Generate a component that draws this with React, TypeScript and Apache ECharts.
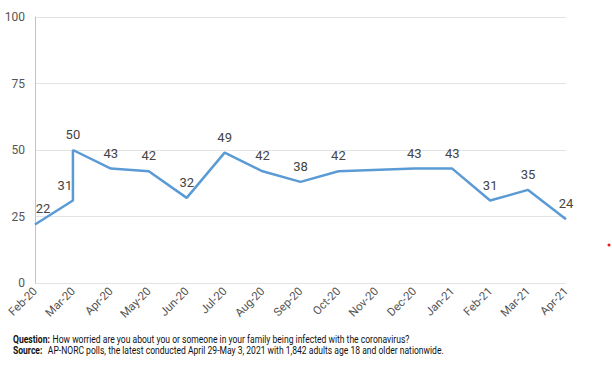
import React, { useEffect, useRef } from "react";
import * as echarts from "echarts";

const categories = ["Feb-20","Mar-20","Apr-20","May-20","Jun-20","Jul-20","Aug-20","Sep-20","Oct-20","Nov-20","Dec-20","Jan-21","Feb-21","Mar-21","Apr-21"];
// poll points: [category index, percent worried]
const pollIndex = [0, 1, 1, 2, 3, 4, 5, 6, 7, 8, 10, 11, 12, 13, 14];
const pollValues = [22, 31, 50, 43, 42, 32, 49, 42, 38, 42, 43, 43, 31, 35, 24];
const yTicks = [0, 25, 50, 75, 100];

export default function App() {
  const ref = useRef<HTMLDivElement>(null);
  useEffect(() => {
    const chart = echarts.init(ref.current!, null, { renderer: "svg" });
    const labelOffsets: Record<number, [number, number]> = { 0: [8, 0], 1: [-8, 0] };
    const data = pollIndex.map((x, i) => ({
      value: [x, pollValues[i]],
      label: labelOffsets[i] ? { offset: labelOffsets[i] } : undefined,
    }));
    const rich = {
      b: { fontWeight: "bold", fontFamily: "Roboto", fontSize: 10.5, fill: "#111", color: "#111" },
      n: { fontFamily: "Roboto", fontSize: 10.5, fill: "#111", color: "#111" },
    };
    chart.setOption({
      animation: false,
      grid: { left: 35, right: 46, top: 17, bottom: 91 },
      xAxis: {
        type: "value",
        min: 0,
        max: categories.length - 1,
        interval: 1,
        axisLine: { show: false },
        axisTick: { show: false },
        splitLine: { show: false },
        axisLabel: {
          rotate: 45,
          color: "#555",
          fontFamily: "Roboto",
          fontSize: 11.5,
          margin: 6,
          formatter: (v: number) => categories[v] ?? "",
        },
      },
      yAxis: {
        type: "value",
        min: 0,
        max: 100,
        interval: 25,
        axisLine: { show: true, lineStyle: { color: "#a9cbe0", width: 1 } },
        axisTick: { show: false },
        splitLine: { lineStyle: { color: "#e3e3e3", width: 1 } },
        axisLabel: {
          color: "#555",
          fontFamily: "Roboto",
          fontSize: 12,
          margin: 10,
          formatter: (v: number) => (yTicks.includes(v) ? String(v) : ""),
        },
      },
      series: [
        {
          type: "line",
          data,
          symbol: "circle",
          symbolSize: 0,
          showSymbol: true,
          lineStyle: { color: "#5b9bd5", width: 2.5 },
          itemStyle: { color: "#5b9bd5" },
          label: {
            show: true,
            position: "top",
            distance: 9,
            color: "#444",
            fontFamily: "Roboto",
            fontSize: 13,
            formatter: (p: any) => String(p.value[1]),
          },
        },
      ],
      graphic: [
        {
          type: "text",
          x: 13,
          y: 333,
          scaleX: 0.815,
          style: {
            rich,
            text: "{b|Question:} {n|How worried are you about you or someone in your family being infected with the coronavirus?}",
          },
        },
        {
          type: "text",
          x: 13,
          y: 344,
          scaleX: 0.815,
          style: {
            rich,
            text: "{b|Source:}  {n|AP-NORC polls, the latest conducted April 29-May 3, 2021 with 1,842 adults age 18 and older nationwide.}",
          },
        },
        {
          type: "circle",
          shape: { cx: 609, cy: 245, r: 1.5 },
          style: { fill: "#e02020" },
        },
      ],
    });
    return () => chart.dispose();
  }, []);
  return <div ref={ref} style={{ position: "absolute", left: 0, top: 0, width: 612, height: 374 }} />;
}
